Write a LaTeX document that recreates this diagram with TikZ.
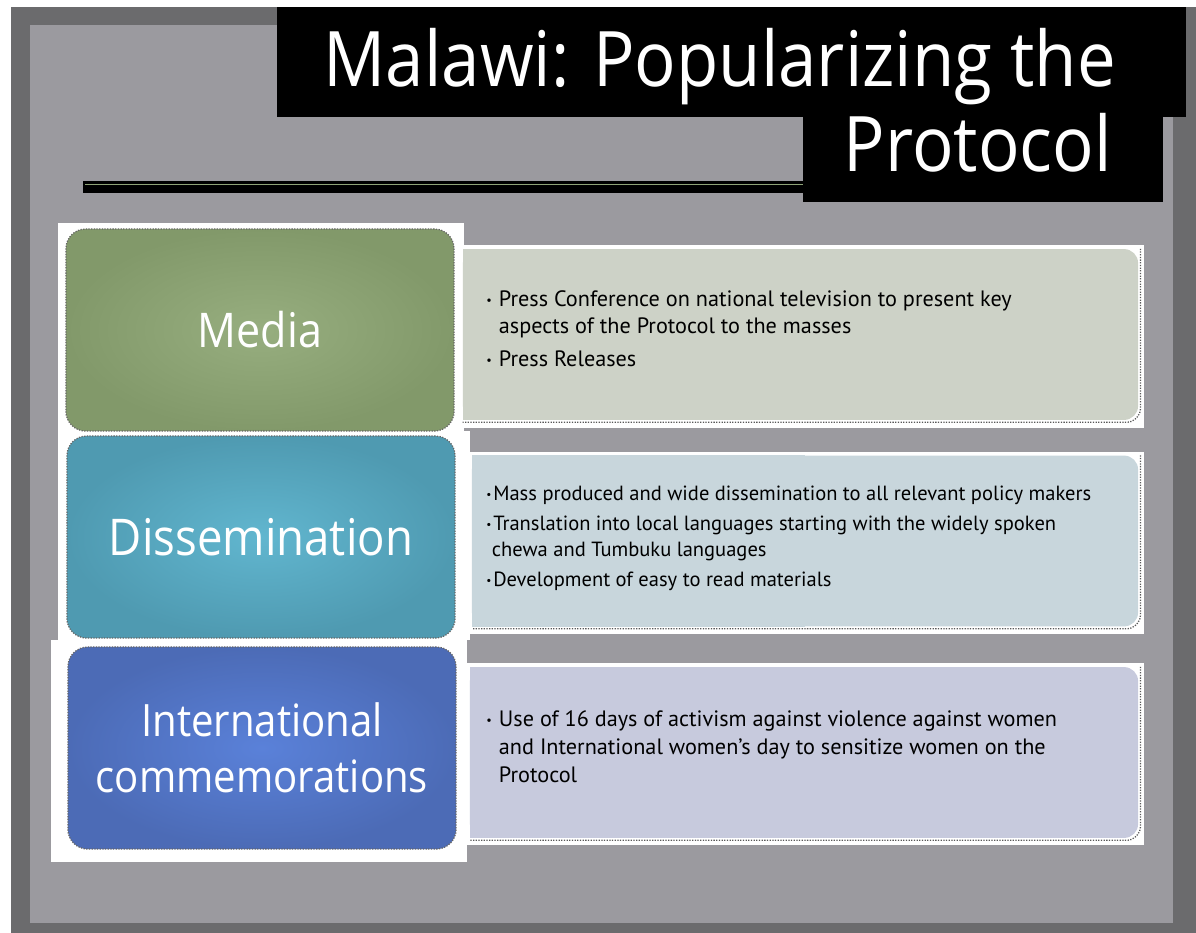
\documentclass[tikz,border=0pt]{standalone}
\usepackage{fontspec}
\setmainfont{PT Sans}
\newfontfamily\headfont[FakeStretch=0.9]{Open Sans}
\usetikzlibrary{positioning}

\definecolor{slidegrey}{HTML}{9B9A9F}
\definecolor{framegrey}{HTML}{6B6B6D}
\definecolor{rulegreen}{HTML}{8FA377}
\definecolor{mediaouter}{HTML}{82996A}
\definecolor{mediainner}{HTML}{97AE7F}
\definecolor{dissouter}{HTML}{4F9AB1}
\definecolor{dissinner}{HTML}{61B6CF}
\definecolor{intlouter}{HTML}{4C6BB6}
\definecolor{intlinner}{HTML}{5A81D9}
\definecolor{mediatext}{HTML}{CDD2C7}
\definecolor{disstext}{HTML}{C8D6DC}
\definecolor{intltext}{HTML}{C7CADD}

\newcommand{\smalldot}{\raisebox{0.18ex}{\scalebox{0.55}{\textbullet}}}

\begin{document}
\begin{tikzpicture}[
    x=0.025cm, y=-0.025cm,
    topic/.style={rectangle, rounded corners=14pt, minimum width=9.7cm, minimum height=5.05cm,
        shading=radial, draw=black!60, densely dotted, line width=0.9pt, text=white, align=center},
    panel/.style={rectangle, rounded corners=10pt, minimum height=4.27cm, inner sep=0pt},
    speckle/.style={draw=black!65, densely dotted, line width=0.9pt, rounded corners=10pt},
    bullets/.style={anchor=north west, align=left, inner sep=0pt, text=black},
    heading/.style={anchor=base east, inner sep=0pt, text=white, font=\headfont\fontsize{54.5}{60}\selectfont}
]
\useasboundingbox (0,0) rectangle (1196,933);
\fill[white] (0,0) rectangle (1196,933);
\fill[framegrey] (11,7) rectangle (1196,933);
\fill[slidegrey] (30,25) rectangle (1173,923);

% title
\fill[black] (277,7) rectangle (1186,117);
\fill[black] (803,117) rectangle (1163,202);
\fill[black] (83,181) rectangle (803,193);
\draw[rulegreen, line width=1.2pt] (85,184.5) -- (803,184.5);
\node[heading] (title1) at (1116,87) {Malawi: Popularizing the};
\node[heading] (title2) at (1112,171) {Protocol};

% white backings
\fill[white] (58,223) rectangle (464,431);
\fill[white] (460,245) rectangle (1144,428);
\fill[white] (58,431) rectangle (470,640);
\fill[white] (470,452) rectangle (1144,634);
\fill[white] (51,640) rectangle (467,862);
\fill[white] (467,663) rectangle (1144,845);

% topic boxes
\node[topic, inner color=mediainner, outer color=mediaouter,
      font=\headfont\fontsize{34}{40}\selectfont] (media) at (260,330) {Media};
\node[topic, inner color=dissinner, outer color=dissouter,
      font=\headfont\fontsize{36}{40}\selectfont] (diss) at (261,537) {Dissemination};
\node[topic, inner color=intlinner, outer color=intlouter,
      font=\headfont\fontsize{31.7}{39.5}\selectfont] (intl) at (262,748) {International\\commemorations};

% panels
\node[panel, fill=mediatext, minimum width=16.875cm] (pmedia) at (800.5,334.5) {};
\fill[mediatext] (pmedia.north west) rectangle (pmedia.south);
\draw[speckle] ([xshift=1.5pt]pmedia.north east) -- ([xshift=1.5pt,yshift=-1.5pt]pmedia.south east) -- ([yshift=-1.5pt]pmedia.south west);

\node[panel, fill=disstext, minimum width=16.65cm] (pdiss) at (805,541) {};
\fill[disstext] (pdiss.north west) rectangle (pdiss.south);
\draw[speckle] ([xshift=1.5pt]pdiss.north east) -- ([xshift=1.5pt,yshift=-1.5pt]pdiss.south east) -- ([yshift=-1.5pt]pdiss.south west);

\node[panel, fill=intltext, minimum width=16.7cm] (pintl) at (804,752.5) {};
\fill[intltext] (pintl.north west) rectangle (pintl.south);
\draw[speckle] ([xshift=1.5pt]pintl.north east) -- ([xshift=1.5pt,yshift=-1.5pt]pintl.south east) -- ([yshift=-1.5pt]pintl.south west);

% bullet texts
\node[bullets, font=\fontsize{15.8}{19.2}\selectfont] (tmedia) at (486,290) {%
  \makebox[9pt][l]{\smalldot}Press Conference on national television to present key\\
  \hspace*{9pt}aspects of the Protocol to the masses\\[4.5pt]
  \makebox[9pt][l]{\smalldot}Press Releases};
\node[bullets, font=\fontsize{14.6}{18.6}\selectfont] (tdiss) at (486,486) {%
  \makebox[5pt][l]{\smalldot}Mass produced and wide dissemination to all relevant policy makers\\[2.5pt]
  \makebox[5pt][l]{\smalldot}Translation into local languages starting with the widely spoken\\
  \hspace*{4pt}chewa and Tumbuku languages\\[2.5pt]
  \makebox[5pt][l]{\smalldot}Development of easy to read materials};
\node[bullets, font=\fontsize{15.8}{20}\selectfont] (tintl) at (486,710) {%
  \makebox[9pt][l]{\smalldot}Use of 16 days of activism against violence against women\\
  \hspace*{9pt}and International women’s day to sensitize women on the\\
  \hspace*{9pt}Protocol};
\end{tikzpicture}
\end{document}
